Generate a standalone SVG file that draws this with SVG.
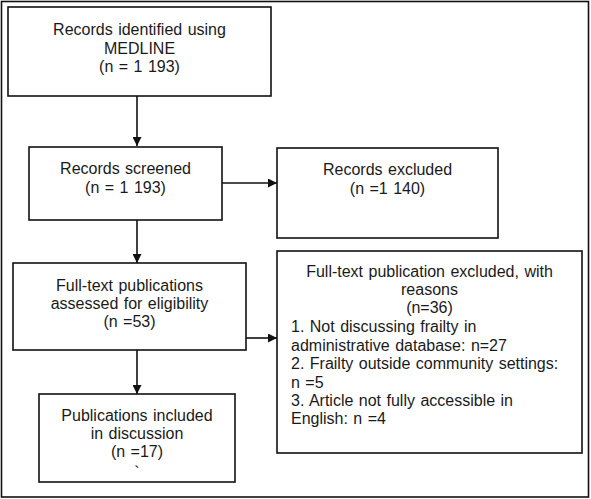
<svg xmlns="http://www.w3.org/2000/svg" width="591" height="499" viewBox="0 0 591 499">
<defs>
<style>
.box{fill:#fff;stroke:#111;stroke-width:1.6}
.t{font-family:"Liberation Sans",Arial,sans-serif;font-size:16px;fill:#1a1a1a;word-spacing:1px}
.c{text-anchor:middle}
.ln{stroke:#111;stroke-width:1.6;fill:none}
</style>
<marker id="ah2" viewBox="0 0 10 10" refX="10" refY="5" markerWidth="9" markerHeight="9" orient="auto" markerUnits="userSpaceOnUse">
<path d="M0,0 L10,5 L0,10 z" fill="#111"/>
</marker>
</defs>
<rect x="1.5" y="1.5" width="587" height="495.5" fill="#fff" stroke="#111" stroke-width="1.6"/>
<g id="connectors">
<line class="ln" x1="137" y1="96" x2="137" y2="146" marker-end="url(#ah2)"/>
<line class="ln" x1="222" y1="183" x2="277" y2="183" marker-end="url(#ah2)"/>
<line class="ln" x1="137" y1="220" x2="137" y2="263" marker-end="url(#ah2)"/>
<line class="ln" x1="246" y1="338" x2="277" y2="338" marker-end="url(#ah2)"/>
<line class="ln" x1="137" y1="350" x2="137" y2="394" marker-end="url(#ah2)"/>
</g>
<g id="identified">
<rect class="box" x="8" y="7" width="263" height="89"/>
<text class="t c" x="139.5" y="35">Records identified using</text>
<text class="t c" x="139.5" y="54">MEDLINE</text>
<text class="t c" x="139.5" y="72">(n = 1 193)</text>
</g>
<g id="screened">
<rect class="box" x="29" y="147" width="193" height="73"/>
<text class="t c" x="125.5" y="174">Records screened</text>
<text class="t c" x="125.5" y="193">(n = 1 193)</text>
</g>
<g id="excluded">
<rect class="box" x="277" y="148" width="221" height="90"/>
<text class="t c" x="387.5" y="175">Records excluded</text>
<text class="t c" x="387.5" y="194">(n =1 140)</text>
</g>
<g id="fulltext">
<rect class="box" x="13" y="263" width="233" height="87"/>
<text class="t c" x="129.5" y="291">Full-text publications</text>
<text class="t c" x="129.5" y="309">assessed for eligibility</text>
<text class="t c" x="129.5" y="327">(n =53)</text>
</g>
<g id="ftexcluded">
<rect class="box" x="277" y="251" width="305" height="202"/>
<text class="t c" x="429.5" y="277">Full-text publication excluded, with</text>
<text class="t c" x="429.5" y="295">reasons</text>
<text class="t c" x="429.5" y="313">(n=36)</text>
<text class="t" x="291" y="332">1. Not discussing frailty in</text>
<text class="t" x="291" y="351">administrative database: n=27</text>
<text class="t" x="291" y="369">2. Frailty outside community settings:</text>
<text class="t" x="291" y="388">n =5</text>
<text class="t" x="291" y="406">3. Article not fully accessible in</text>
<text class="t" x="291" y="424">English: n =4</text>
</g>
<g id="included">
<rect class="box" x="39" y="394" width="196" height="88"/>
<text class="t c" x="137" y="421">Publications included</text>
<text class="t c" x="137" y="439">in discussion</text>
<text class="t c" x="137" y="457">(n =17)</text>
<text class="t c" x="137" y="478">`</text>
</g>
</svg>
